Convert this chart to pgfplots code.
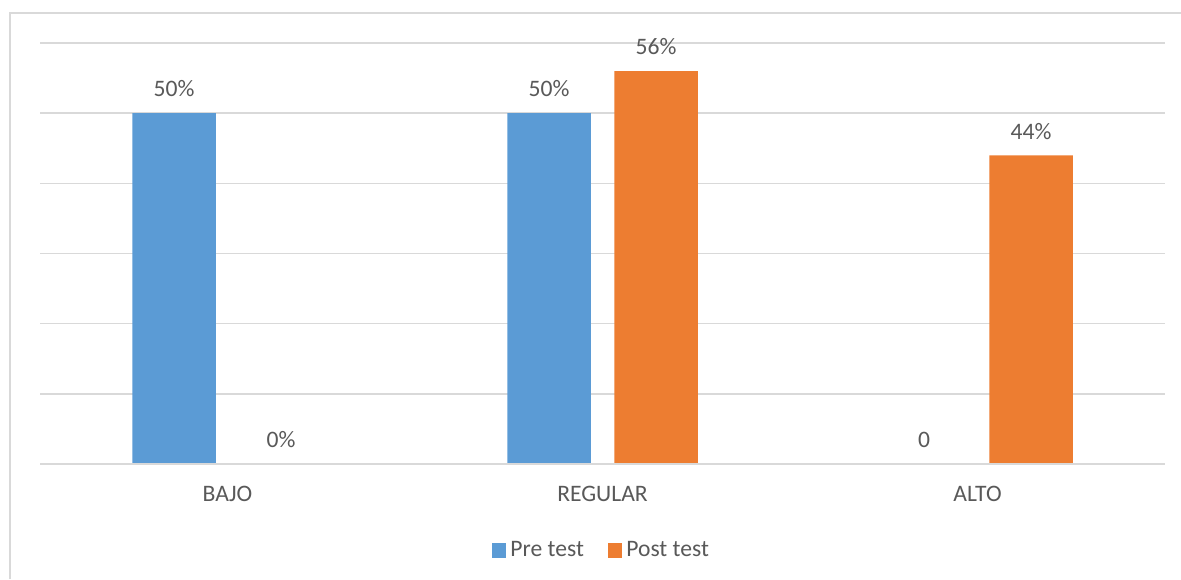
\documentclass[border=0pt]{standalone}
\usepackage{pgfplots}
\pgfplotsset{compat=1.18}
\usepackage{fontspec}
\setmainfont{Carlito}
\definecolor{preblue}{HTML}{5B9BD5}
\definecolor{postorange}{HTML}{ED7D31}
\definecolor{gridgray}{HTML}{D9D9D9}
\definecolor{txtgray}{HTML}{595959}
\begin{document}
\begin{tikzpicture}[x=0.5pt,y=0.5pt]
\begin{axis}[
  width=562.5pt, height=210.5pt, scale only axis,
  xmin=-0.5, xmax=2.5, ymin=0, ymax=60,
  xtick={0,1,2}, xticklabels={BAJO,REGULAR,ALTO},
  ytick={10,20,30,40,50,60}, yticklabels={},
  ymajorgrids, grid style={gridgray, line width=0.75pt},
  axis line style={draw=none},
  major tick length=0pt,
  xtick pos=bottom, ytick pos=left,
  tick label style={font=\fontsize{11.8}{14}\selectfont, text=txtgray},
  xticklabel style={yshift=-7.5pt},
  ybar, bar width=41.75pt,
  point meta=explicit symbolic,
  nodes near coords,
  nodes near coords style={font=\fontsize{11.8}{14}\selectfont, text=txtgray, anchor=south, yshift=4.5pt},
  legend style={at={(axis description cs:0.5,-0.205)}, anchor=center, draw=none,
    legend columns=2, font=\fontsize{11.8}{14}\selectfont, text=txtgray,
    /tikz/every even column/.append style={column sep=10pt}},
  legend image code/.code={\fill[#1] (0pt,-3.6pt) rectangle (7.2pt,3.6pt);},
]
\addplot[fill=preblue, draw=none, bar shift=-26.75pt] coordinates {(0,50)[50\%] (1,50)[50\%] (2,0)[0]};
\addplot[fill=postorange, draw=none, bar shift=26.75pt] coordinates {(0,0)[0\%] (1,56)[56\%] (2,44)[44\%]};
\legend{Pre test, Post test}
\draw[gridgray, line width=0.75pt] (axis cs:-0.5,0) -- (axis cs:2.5,0);
\coordinate (ll) at (rel axis cs:0,0);
\end{axis}
\pgfresetboundingbox
\path (ll) ++(-40,-115) coordinate (bb);
\useasboundingbox (bb) rectangle ++(1181,579);
\draw[gridgray, line width=1pt] ([xshift=5.25pt]bb) -- ++(0,565.5) -- ++(1171,0);
\end{tikzpicture}
\end{document}
